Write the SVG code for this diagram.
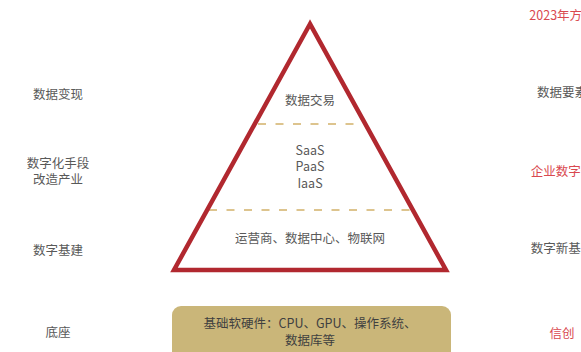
<svg xmlns="http://www.w3.org/2000/svg" width="581" height="352" viewBox="0 0 581 352">
<style>
text{font-family:"Noto Sans CJK SC","Noto Sans",sans-serif;font-size:12.5px;text-anchor:middle;fill:#595959}
.red{fill:#d9484f}
.dark{fill:#404040}
.dash{stroke:#d2b169;stroke-width:1.5;stroke-dasharray:8 9.5;fill:none}
</style>
<rect width="581" height="352" fill="#fff"/>
<g id="connectors">
<line class="dash" x1="258" y1="124" x2="362" y2="124"/>
<line class="dash" x1="209" y1="210" x2="411" y2="210"/>
</g>
<g id="pyramid">
<polygon points="310,24 174,270 446,270" fill="none" stroke="#b1282f" stroke-width="4.5" stroke-linejoin="miter"/>
</g>
<g id="top-layer"><text x="310" y="104.5">数据交易</text></g>
<g id="middle-layer">
<text x="310" y="154.5">SaaS</text>
<text x="310" y="171">PaaS</text>
<text x="310" y="187.5">IaaS</text>
</g>
<g id="bottom-layer"><text x="310" y="242.5">运营商、数据中心、物联网</text></g>
<g id="base">
<rect x="172" y="306" width="279" height="60" rx="9" fill="#cab679"/>
<text class="dark" x="310" y="327.5">基础软硬件：CPU、GPU、操作系统、</text>
<text class="dark" x="310" y="344.5">数据库等</text>
</g>
<g id="left-labels">
<text x="58" y="98.5">数据变现</text>
<text x="58" y="167.5">数字化手段</text>
<text x="58" y="183.5">改造产业</text>
<text x="58" y="254.5">数字基建</text>
<text x="58" y="336.5">底座</text>
</g>
<g id="right-labels">
<text class="red" x="562" y="19.5">2023年方向</text>
<text x="562" y="96.5">数据要素</text>
<text class="red" x="562" y="176">企业数字化</text>
<text x="562" y="252.5">数字新基建</text>
<text class="red" x="562" y="337.5">信创</text>
</g>
</svg>
